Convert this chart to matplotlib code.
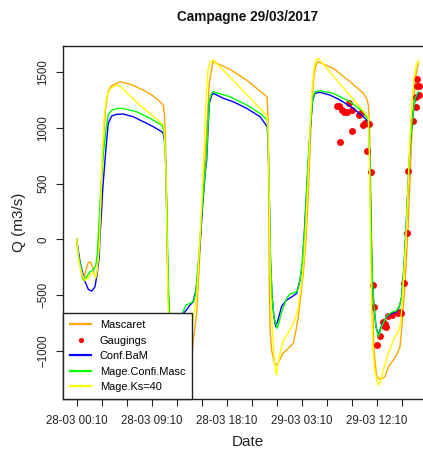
import numpy as np
import pandas as pd
import matplotlib
matplotlib.use('Agg')
import matplotlib.pyplot as plt
import matplotlib.dates as mdates

plt.rcParams['font.family'] = ['Liberation Sans', 'DejaVu Sans']

t0 = pd.Timestamp('2017-03-28 00:10')

# (hours since 28-03 00:10, Q in m3/s)
mascaret = [(0, 0), (0.3, -200), (0.6, -320), (0.8, -366), (1.12, -276), (1.36, -213), (1.6, -201),
            (1.84, -231), (2.08, -294), (2.32, -357), (2.5, -276), (2.68, 0), (2.86, 353), (3.04, 623),
            (3.28, 982), (3.52, 1207), (3.76, 1323), (4.12, 1377), (4.8, 1402), (5.2, 1416), (6.4, 1395),
            (8.0, 1341), (9.19, 1288), (10.0, 1236), (10.39, 1207), (10.54, 1116), (10.66, 891),
            (10.78, 353), (10.9, -186), (11.08, -636), (11.3, -950), (11.6, -1150), (12.0, -1180),
            (12.6, -1140), (13.2, -1080), (13.84, -1024), (14.05, -875), (14.4, -665), (14.6, -400),
            (14.8, -100), (15.04, 250), (15.3, 600), (15.6, 952), (15.91, 1402), (16.32, 1587),
            (16.4, 1596), (18.4, 1527), (20.4, 1431), (22.6, 1296), (22.84, 1278), (22.96, 1100),
            (23.05, 400), (23.12, -400), (23.2, -800), (23.4, -1000), (23.7, -1100), (23.92, -1130),
            (24.16, -1114), (24.76, -1024), (25.4, -979), (26.0, -934), (26.32, -815), (26.6, -695),
            (26.88, -516), (27.2, -305), (27.52, -6), (27.76, 353), (28.0, 802), (28.24, 1252),
            (28.48, 1476), (28.72, 1566), (28.96, 1596), (30.8, 1536), (32.8, 1416), (34.4, 1312),
            (34.8, 1267), (35.0, 1207), (35.14, 1000), (35.26, 600), (35.38, 0), (35.52, -600),
            (35.68, -1000), (36.0, -1235), (36.4, -1258), (37.0, -1235), (37.4, -1145), (38.0, -1085),
            (38.47, -1024), (38.8, -965), (39.0, -815), (39.2, -605), (39.4, -395), (39.76, 84),
            (40.0, 533), (40.24, 982), (40.48, 1296), (40.72, 1476), (41.0, 1584)]

gaugings = [(31.2, 1197), (31.51, 1197), (31.8, 1161), (32.08, 1141), (32.4, 1146), (32.71, 1222),
            (33.0, 1161), (33.91, 1117), (34.12, 1137), (34.39, 1027), (34.6, 1042), (35.11, 1036),
            (33.0, 973), (31.6, 877), (34.8, 796), (35.32, 602), (35.52, -410), (35.68, -605),
            (36.07, -950), (36.4, -869), (36.72, -740), (36.88, -779), (37.0, -764), (37.12, -785),
            (37.39, -689), (37.8, -680), (38.59, -659), (38.8, -650), (38.88, -665), (39.28, -390),
            (39.68, 59), (39.8, 614), (40.32, 1063), (40.72, 1186), (40.72, 1281), (41.04, 1296),
            (40.8, 1380), (41.11, 1380), (40.88, 1437)]

conf_bam = [(0, 0), (0.4, -200), (0.9, -360), (1.4, -450), (1.8, -465), (2.2, -426), (2.47, -305),
            (2.71, -156), (2.8, 23), (3.0, 263), (3.12, 443), (3.4, 712), (3.6, 892), (3.79, 1042),
            (4.2, 1108), (4.8, 1123), (5.6, 1126), (6.8, 1101), (8.0, 1057), (9.2, 1012), (10.2, 967),
            (10.39, 952), (10.6, 847), (10.72, 578), (10.84, 84), (10.96, -455), (11.14, -700),
            (11.44, -800), (11.92, -760), (12.64, -680), (13.12, -640), (13.6, -590), (13.96, -563),
            (14.32, -456), (14.56, -276), (14.8, -51), (15.04, 218), (15.2, 383), (15.4, 578),
            (15.6, 712), (15.76, 982), (15.92, 1222), (16.2, 1296), (16.4, 1312), (17.6, 1267),
            (18.8, 1236), (20.4, 1177), (22.0, 1102), (22.87, 1012), (23.0, 800), (23.14, 300),
            (23.26, -200), (23.44, -500), (23.68, -700), (23.88, -785), (24.16, -725), (24.6, -600),
            (25.2, -545), (25.84, -516), (26.4, -485), (26.8, -366), (27.1, -216), (27.38, 144),
            (27.6, 443), (27.8, 712), (28.0, 952), (28.32, 1252), (28.6, 1312), (29.2, 1321),
            (30.4, 1296), (31.6, 1252), (33.2, 1177), (34.4, 1102), (35.0, 1057), (35.14, 800),
            (35.26, 350), (35.38, -100), (35.5, -400), (35.68, -605), (35.92, -785), (36.2, -860),
            (36.6, -770), (37.2, -695), (37.8, -665), (38.4, -650), (38.71, -605), (39.0, -516),
            (39.28, -246), (39.52, 84), (39.68, 353), (40.0, 832), (40.32, 1102), (40.6, 1252),
            (41.0, 1312)]

mage_conf = [(0, 0), (0.2, -141), (0.8, -366), (1.2, -336), (1.6, -291), (2.0, -276), (2.3, -231),
             (2.48, -126), (2.64, 84), (2.8, 323), (3.0, 560), (3.2, 760), (3.4, 900), (3.6, 1030),
             (3.8, 1120), (4.2, 1160), (4.8, 1175), (5.4, 1177), (6.0, 1168), (7.2, 1146), (8.8, 1087),
             (10.2, 1027), (10.4, 1000), (10.6, 880), (10.75, 550), (10.88, 50), (11.0, -400),
             (11.15, -680), (11.45, -810), (11.9, -780), (12.4, -700), (12.76, -650), (13.12, -590),
             (13.7, -572), (14.1, -545), (14.32, -470), (14.5, -300), (14.75, -60), (15.0, 230),
             (15.2, 420), (15.4, 600), (15.6, 760), (15.76, 1030), (15.92, 1250), (16.2, 1315),
             (16.4, 1326), (18.4, 1281), (20.4, 1207), (22.0, 1132), (22.87, 1072), (23.0, 850),
             (23.12, 350), (23.25, -150), (23.45, -520), (23.7, -710), (24.07, -800), (24.6, -653),
             (25.2, -530), (25.6, -491), (26.4, -471), (26.7, -411), (27.04, -231), (27.4, 128),
             (27.6, 450), (27.8, 730), (28.0, 980), (28.32, 1270), (28.6, 1325), (29.2, 1335),
             (30.8, 1312), (32.8, 1236), (34.4, 1146), (35.0, 1072), (35.14, 820), (35.26, 370),
             (35.38, -80), (35.5, -390), (35.68, -600), (35.92, -790), (36.2, -875), (36.6, -780),
             (37.2, -690), (37.8, -655), (38.4, -640), (38.71, -600), (39.0, -520), (39.28, -250),
             (39.52, 84), (39.68, 353), (40.0, 840), (40.32, 1110), (40.6, 1265), (41.0, 1325)]

mage_ks40 = [(0, 0), (0.28, -201), (0.6, -305), (0.99, -372), (1.4, -341), (1.8, -305), (2.0, -291),
             (2.28, -350), (2.48, -276), (2.72, -66), (2.88, 293), (3.04, 712), (3.28, 1071), (3.52, 1252),
             (3.76, 1314), (4.12, 1359), (4.8, 1386), (5.2, 1377), (7.6, 1206), (10.0, 1055),
             (10.48, 1018), (10.72, 623), (10.84, -6), (10.96, -545), (11.15, -900), (11.5, -1150),
             (12.0, -1200), (12.6, -1050), (13.2, -900), (13.8, -785), (14.4, -516), (14.8, 0),
             (15.04, 353), (15.28, 802), (15.52, 1252), (15.76, 1521), (16.0, 1593), (16.4, 1611),
             (17.2, 1550), (19.6, 1365), (22.0, 1175), (22.84, 1110), (22.96, 1000), (23.08, 500),
             (23.2, -200), (23.32, -600), (23.56, -900), (23.74, -1100), (23.95, -1219), (24.4, -1024),
             (24.8, -905), (25.6, -815), (26.2, -725), (26.6, -605), (27.0, -395), (27.28, -156),
             (27.52, 144), (27.76, 533), (28.0, 982), (28.24, 1341), (28.48, 1539), (28.72, 1611),
             (29.0, 1626), (34.8, 1117), (35.0, 1100), (35.14, 700), (35.26, 0), (35.38, -600),
             (35.56, -1000), (35.8, -1200), (36.2, -1309), (36.4, -1290), (36.8, -1174), (37.4, -1024),
             (38.0, -905), (38.47, -845), (38.8, -785), (39.0, -635), (39.2, -395), (39.52, 0),
             (39.76, 450), (40.0, 900), (40.24, 1250), (40.48, 1450), (40.72, 1560), (41.0, 1611)]


def to_xy(pts):
    h, q = np.array(pts, dtype=float).T
    t = mdates.date2num((t0 + pd.to_timedelta(h, unit='h')).to_pydatetime())
    return t, q


fig = plt.figure(figsize=(4.23, 4.5), dpi=100)
ax = fig.add_axes([63 / 423, 50.7 / 450, 369 / 423, 353.3 / 450])

ax.plot(*to_xy(mascaret), color='#FFA500', lw=1.0, label='Mascaret', zorder=2)
gx, gy = to_xy(gaugings)
ax.plot(gx, gy, 'o', color='red', ms=5, mew=0, label='Gaugings', zorder=3)
ax.plot(*to_xy(conf_bam), color='blue', lw=1.0, label='Conf.BaM', zorder=4)
ax.plot(*to_xy(mage_conf), color='#00FF00', lw=1.0, label='Mage.Confi.Masc', zorder=5)
ax.plot(*to_xy(mage_ks40), color='#FFFF00', lw=1.0, label='Mage.Ks=40', zorder=6)

xmin = mdates.date2num((t0 - pd.Timedelta(hours=1.64)).to_pydatetime())
xmax = mdates.date2num((t0 + pd.Timedelta(hours=42.64)).to_pydatetime())
ax.set_xlim(xmin, xmax)
ax.set_ylim(-1437, 1737)

major = pd.date_range(t0, periods=5, freq='9h')
minor = pd.date_range(t0, periods=14, freq='3h')
ax.set_xticks(mdates.date2num(major.to_pydatetime()))
ax.set_xticks(mdates.date2num(minor.to_pydatetime()), minor=True)
ax.xaxis.set_major_formatter(mdates.DateFormatter('%d-%m %H:%M'))
ax.set_yticks([-1000, -500, 0, 500, 1000, 1500])
for lab in ax.get_yticklabels():
    lab.set_rotation(90)
    lab.set_va('center')

ax.tick_params(axis='both', which='both', length=5, width=0.8, color='#222222',
               labelsize=8.3, labelcolor='#222222')
ax.tick_params(axis='x', pad=6)
ax.tick_params(axis='y', pad=5)
for s in ax.spines.values():
    s.set_color('#222222')
    s.set_linewidth(1)

ax.set_xlabel('Date', fontsize=11, color='#222222', labelpad=6)
ax.set_ylabel('Q (m3/s)', fontsize=11, color='#222222', labelpad=8)
fig.text(247.5 / 423, 1 - 17 / 450, 'Campagne 29/03/2017', ha='center', va='center',
         fontsize=9.8, fontweight='bold', color='#111111')

leg = ax.legend(loc='lower left', bbox_to_anchor=(0, 0), borderaxespad=0, fontsize=7.9,
                fancybox=False, framealpha=1, edgecolor='#222222', handlelength=1.9,
                handletextpad=0.8, labelspacing=0.5, borderpad=0.65, markerscale=0.75)
leg.get_frame().set_linewidth(1)
for line in leg.get_lines():
    if line.get_linestyle() != 'None':
        line.set_linewidth(1.6)
leg.set_zorder(10)

fig.savefig('out.png', dpi=100)
